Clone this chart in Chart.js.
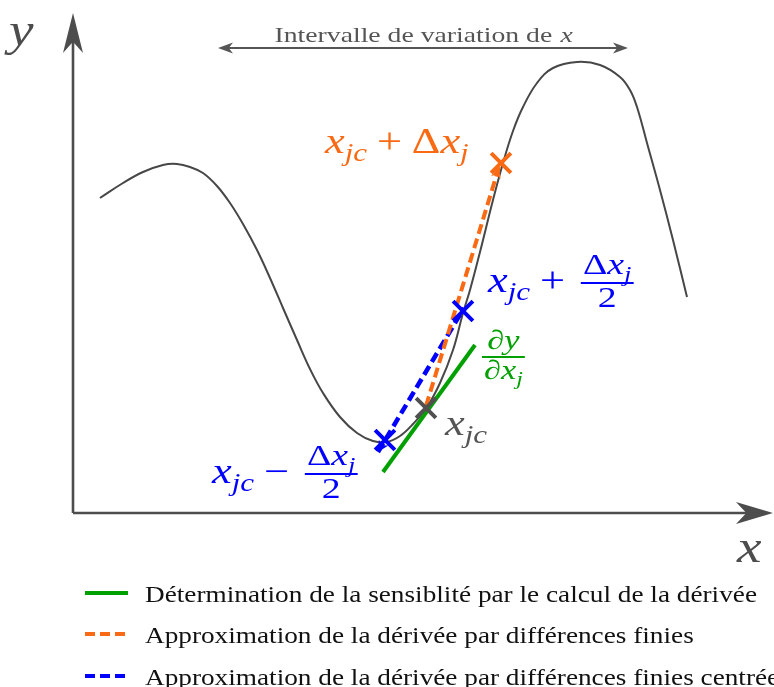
<!DOCTYPE html>
<html><head><meta charset="utf-8">
<script src="https://cdn.jsdelivr.net/npm/chart.js@4/dist/chart.umd.min.js"></script>
<style>html,body{margin:0;padding:0;background:#fff;overflow:hidden}#wrap{width:774px;height:687px}</style>
</head><body><div id="wrap"><canvas id="c" width="774" height="687"></canvas></div>
<script>
// ---- data (diagram units: origin at the axes' corner, y upwards) ----
const curveX = [27,50,70,90,104,117,130,144,157,170,184,197,210,224,237,250,267,284,300,314,327,340,354,367,380,390,397,407,420,430,440,450,464,480,504,527,547,557,564,574,587,600,614];
const curveY = [315,330,341,348,349,346,340,327,310,289,263,235,205,173,144,120,96,80,72,71,77,89,106,130,163,200,223,261,313,350,382,406,430,445,451,448,436,423,406,370,323,273,216];
const tangentX = [310,402];
const tangentY = [41,168];
const forwardX = [353,426];
const forwardY = [107,346];
const centralX = [305,391];
const centralY = [61,205];
const crossX = [428,390,353,312];
const crossY = [350,202,105,73];
const crossColors = ['#fa6a14','#0000ff','#505050','#0000ff'];
const legendLabels = [
  'Détermination de la sensiblité par le calcul de la dérivée',
  'Approximation de la dérivée par différences finies',
  'Approximation de la dérivée par différences finies centrées'
];
const legendColors = ['#00a000','#fa6a14','#0000ff'];
const legendDash = [[],[10,5],[10,5]];
const axisMaxX = 700, axisMaxY = 500;
const rangeX = [145,555], rangeY = 465;
const rangeTitle = 'Intervalle de variation de ';

const toPts = (xs, ys) => xs.map((x,i)=>({x:x,y:ys[i]}));
const SERIF = '"Liberation Serif","DejaVu Serif",serif';
const GRAY = '#4d4d4d';
const HS = 1.27; // horizontal stretch for math labels

function arrowHead(ctx, tx, ty, ang, len, hw, color){
  ctx.save();
  ctx.translate(tx,ty); ctx.rotate(ang);
  ctx.fillStyle = color;
  ctx.beginPath();
  ctx.moveTo(0,0);
  ctx.lineTo(-len, -hw);
  ctx.lineTo(-len*0.72, 0);
  ctx.lineTo(-len, hw);
  ctx.closePath();
  ctx.fill();
  ctx.restore();
}

function segFont(type, size){
  if (type==='s') return 'italic ' + (size*0.7) + 'px ' + SERIF;
  if (type==='i') return 'italic ' + size + 'px ' + SERIF;
  return size + 'px ' + SERIF;
}
function mathWidth(ctx, segs, size){
  let w = 0;
  for (const [t,type] of segs){
    ctx.font = segFont(type,size);
    w += ctx.measureText(t).width;
    if (type==='op') w += size*0.44;
  }
  return w*HS;
}
function drawMath(ctx, x, y, segs, size, color){
  ctx.save();
  ctx.translate(x, y); ctx.scale(HS, 1);
  ctx.fillStyle = color;
  ctx.textBaseline = 'alphabetic';
  ctx.textAlign = 'left';
  let cx = 0;
  for (const [t,type] of segs){
    ctx.font = segFont(type,size);
    if (type==='op') cx += size*0.22;
    const dy = type==='s' ? size*0.22 : 0;
    ctx.fillText(t, cx, dy);
    cx += ctx.measureText(t).width;
    if (type==='op') cx += size*0.22;
  }
  ctx.restore();
  return x + cx*HS;
}
function drawFrac(ctx, x, barY, num, den, size, color){
  const wn = mathWidth(ctx,num,size), wd = mathWidth(ctx,den,size);
  const w = Math.max(wn,wd) + size*0.15;
  ctx.strokeStyle = color; ctx.lineWidth = Math.max(1.6,size*0.07);
  ctx.beginPath(); ctx.moveTo(x,barY); ctx.lineTo(x+w,barY); ctx.stroke();
  drawMath(ctx, x+(w-wn)/2, barY - size*0.3, num, size, color);
  drawMath(ctx, x+(w-wd)/2, barY + size*0.8, den, size, color);
  return x+w;
}

const decor = {
  id:'decor',
  beforeDatasetsDraw(chart){
    const ctx = chart.ctx, sx = chart.scales.x, sy = chart.scales.y;
    const ox = sx.getPixelForValue(0), oy = sy.getPixelForValue(0);
    const ex = sx.getPixelForValue(axisMaxX), ey = sy.getPixelForValue(axisMaxY);
    ctx.save();
    ctx.strokeStyle = GRAY; ctx.lineWidth = 2.6;
    ctx.beginPath(); ctx.moveTo(ox, oy); ctx.lineTo(ex-20, oy); ctx.stroke();
    ctx.beginPath(); ctx.moveTo(ox, oy); ctx.lineTo(ox, ey+20); ctx.stroke();
    arrowHead(ctx, ex, oy, 0, 37, 11, GRAY);
    arrowHead(ctx, ox, ey, -Math.PI/2, 40, 10, GRAY);
    // axis names
    ctx.fillStyle = GRAY;
    ctx.font = 'italic 46px ' + SERIF;
    ctx.textAlign='left'; ctx.textBaseline='alphabetic';
    ctx.save(); ctx.translate(9,45); ctx.scale(1.2,1); ctx.fillText('y', 0, 0); ctx.restore();
    ctx.save(); ctx.translate(737,562); ctx.scale(1.2,1); ctx.fillText('x', 0, 0); ctx.restore();
    // range arrow
    const rx0 = sx.getPixelForValue(rangeX[0]), rx1 = sx.getPixelForValue(rangeX[1]), ry = sy.getPixelForValue(rangeY);
    ctx.strokeStyle = '#555'; ctx.lineWidth = 2;
    ctx.beginPath(); ctx.moveTo(rx0+8, ry); ctx.lineTo(rx1-8, ry); ctx.stroke();
    arrowHead(ctx, rx0, ry, Math.PI, 15, 5.5, '#555');
    arrowHead(ctx, rx1, ry, 0, 15, 5.5, '#555');
    ctx.font = '21px ' + SERIF;
    const w1 = ctx.measureText(rangeTitle).width;
    ctx.font = 'italic 21px ' + SERIF;
    const w2 = ctx.measureText('x').width;
    const cx = (rx0+rx1)/2 + 0;
    const target = 297, sc = target/(w1+w2);
    ctx.save();
    ctx.translate(cx - target/2, 42); ctx.scale(sc,1);
    ctx.fillStyle = '#555';
    ctx.font = '21px ' + SERIF; ctx.fillText(rangeTitle, 0, 0);
    ctx.font = 'italic 21px ' + SERIF; ctx.fillText('x', w1+1, 0);
    ctx.restore();
    ctx.restore();
  },
  afterDatasetsDraw(chart){
    const ctx = chart.ctx, sx = chart.scales.x, sy = chart.scales.y;
    const P = (x,y)=>[sx.getPixelForValue(x), sy.getPixelForValue(y)];
    ctx.save();
    // small arrow tips on the finite-difference segments
    let [a0x,a0y] = P(forwardX[0],forwardY[0]), [a1x,a1y] = P(forwardX[1],forwardY[1]);
    arrowHead(ctx, a1x, a1y, Math.atan2(a1y-a0y, a1x-a0x), 11, 5, '#fa6a14');
    [a0x,a0y] = P(centralX[1],centralY[1]); [a1x,a1y] = P(centralX[0],centralY[0]);
    arrowHead(ctx, a1x, a1y, Math.atan2(a1y-a0y, a1x-a0x), 11, 5.5, '#0000ff');

    const S = 35;
    const xjc = [['x','i'],['jc','s']];
    // orange label
    let [ax, ay] = P(252, 360);
    drawMath(ctx, ax, ay, xjc.concat([['+','op'],['Δ','r'],['x','i'],['j','s']]), S, '#fa6a14');
    // gray x_jc
    [ax, ay] = P(372, 78);
    drawMath(ctx, ax, ay, xjc, S, '#555');
    // blue upper
    [ax, ay] = P(415, 221);
    let nx = drawMath(ctx, ax, ay, xjc.concat([['+','op']]), S, '#0000ff');
    drawFrac(ctx, nx+6, ay-9, [['Δ','r'],['x','i'],['j','s']], [['2','r']], S*0.85, '#0000ff');
    // blue lower
    [ax, ay] = P(139, 30);
    nx = drawMath(ctx, ax, ay, xjc.concat([['−','op']]), S, '#0000ff');
    drawFrac(ctx, nx+6, ay-9, [['Δ','r'],['x','i'],['j','s']], [['2','r']], S*0.85, '#0000ff');
    // green derivative
    [ax, ay] = P(409, 156);
    drawFrac(ctx, ax, ay, [['∂','r'],['y','i']], [['∂','r'],['x','i'],['j','s']], 27, '#00a000');
    // legend
    ctx.font = '23px ' + SERIF;
    const lsc = 612/ctx.measureText(legendLabels[0]).width;
    const lineYs = [593, 634, 676];
    legendLabels.forEach((lab,i)=>{
      ctx.strokeStyle = legendColors[i]; ctx.lineWidth = 4;
      ctx.setLineDash(legendDash[i]);
      ctx.beginPath(); ctx.moveTo(85, lineYs[i]); ctx.lineTo(128, lineYs[i]); ctx.stroke();
      ctx.setLineDash([]);
      ctx.save();
      ctx.translate(145, lineYs[i]+9); ctx.scale(lsc,1);
      ctx.fillStyle = '#111'; ctx.font = '23px ' + SERIF;
      ctx.textAlign='left'; ctx.textBaseline='alphabetic';
      ctx.fillText(lab, 0, 0);
      ctx.restore();
    });
    ctx.restore();
  }
};

new Chart(document.getElementById('c'), {
  type: 'line',
  data: {
    datasets: [
      { type:'scatter', label:'points', data: toPts(crossX, crossY),
        pointStyle:'crossRot', pointRadius:14, pointBorderWidth:4,
        pointBorderColor: crossColors, pointBackgroundColor: crossColors, showLine:false },
      { label:'forward', data: toPts(forwardX, forwardY), borderColor:'#fa6a14', borderWidth:4,
        borderDash:[10,5], pointRadius:0, fill:false },
      { label:'central', data: toPts(centralX, centralY), borderColor:'#0000ff', borderWidth:4.5,
        borderDash:[10,5], pointRadius:0, fill:false },
      { label:'tangent', data: toPts(tangentX, tangentY), borderColor:'#00a000', borderWidth:4,
        pointRadius:0, fill:false },
      { label:'y(x)', data: toPts(curveX, curveY), borderColor:'#474747', borderWidth:2,
        pointRadius:0, tension:0.4, fill:false }
    ]
  },
  options: {
    responsive:false, animation:false, events:[],
    layout:{padding:0, autoPadding:false},
    plugins:{legend:{display:false}, tooltip:{enabled:false}},
    scales:{
      x:{type:'linear', min:-73, max:701, display:false},
      y:{type:'linear', min:-174, max:513, display:false}
    }
  },
  plugins:[decor]
});
</script>
</body></html>
